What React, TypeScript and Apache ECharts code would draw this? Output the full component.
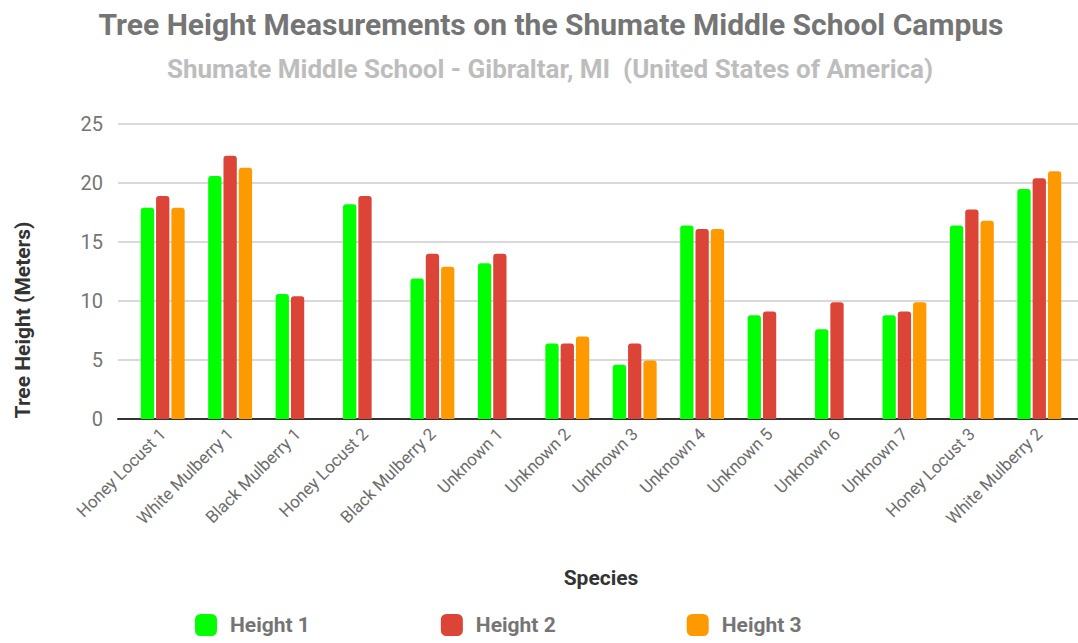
import React, { useEffect, useRef } from "react";
import * as echarts from "echarts";

const categories = [
  "Honey Locust 1",
  "White Mulberry 1",
  "Black Mulberry 1",
  "Honey Locust 2",
  "Black Mulberry 2",
  "Unknown 1",
  "Unknown 2",
  "Unknown 3",
  "Unknown 4",
  "Unknown 5",
  "Unknown 6",
  "Unknown 7",
  "Honey Locust 3",
  "White Mulberry 2",
];
const height1 = [17.9, 20.6, 10.6, 18.2, 11.9, 13.2, 6.4, 4.6, 16.4, 8.8, 7.6, 8.8, 16.4, 19.5];
const height2 = [18.9, 22.3, 10.4, 18.9, 14.0, 14.0, 6.4, 6.4, 16.1, 9.1, 9.9, 9.1, 17.75, 20.4];
const height3 = [17.9, 21.3, null, null, 12.9, null, 7.0, 4.95, 16.1, null, null, 9.9, 16.8, 21.0];
const seriesNames = ["Height 1", "Height 2", "Height 3"];
const colors = ["#00ff00", "#dc4437", "#ff9900"];
const yTicks = { min: 0, max: 25, interval: 5 };

export default function App() {
  const ref = useRef<HTMLDivElement>(null);
  useEffect(() => {
    if (!ref.current) return;
    const chart = echarts.init(ref.current, null, { renderer: "svg" });
    const font = "Roboto";
    const bar = (name: string, data: (number | null)[], color: string) => ({
      name,
      type: "bar",
      xAxisIndex: 1,
      yAxisIndex: 1,
      data,
      barWidth: 13.3,
      barGap: "15%",
      itemStyle: { color, borderRadius: [3, 3, 0, 0] },
    });
    chart.setOption({
      animation: false,
      textStyle: { fontFamily: font },
      title: [
        {
          text: "Tree Height Measurements on the Shumate Middle School Campus",
          left: 546,
          textAlign: "center",
          top: 4,
          textStyle: { fontFamily: font, fontWeight: "bold", fontSize: 30, color: "#757575" },
        },
        {
          text: "Shumate Middle School - Gibraltar, MI  (United States of America)",
          left: 545,
          textAlign: "center",
          top: 51,
          textStyle: { fontFamily: font, fontWeight: "bold", fontSize: 26, color: "#bdbdbd" },
        },
      ],
      graphic: [
        {
          type: "text",
          x: 23,
          y: 320,
          rotation: Math.PI / 2,
          style: {
            text: "Tree Height (Meters)",
            fontFamily: font,
            fontWeight: "bold",
            fontSize: 21,
            fill: "#333",
            textAlign: "center",
            textVerticalAlign: "middle",
          },
        },
      ],
      legend: {
        bottom: 2,
        left: 190,
        itemWidth: 22,
        itemHeight: 22,
        itemGap: 131,
        icon: "roundRect",
        data: seriesNames,
        textStyle: { fontFamily: font, fontWeight: "bold", fontSize: 21, color: "#757575", padding: [0, 0, 0, 8] },
      },
      grid: [
        { left: 118, right: 0, top: 124, bottom: 224 },
        { left: 129, right: 5, top: 124, bottom: 224 },
      ],
      xAxis: [
        {
          type: "category",
          gridIndex: 0,
          data: [""],
          axisLine: { lineStyle: { color: "#333", width: 2 } },
          axisTick: { show: false },
          axisLabel: { show: false },
        },
        {
          type: "category",
          gridIndex: 1,
          data: categories,
          axisLine: { show: false },
          axisTick: { show: false },
          axisLabel: { interval: 0, rotate: 45, fontSize: 17, color: "#6d6d6d", margin: 12 },
          name: "Species",
          nameLocation: "middle",
          nameGap: 148,
          nameTextStyle: { fontFamily: font, fontWeight: "bold", fontSize: 21, color: "#333" },
        },
      ],
      yAxis: [
        {
          type: "value",
          gridIndex: 0,
          ...yTicks,
          axisLine: { show: false },
          axisTick: { show: false },
          splitLine: { lineStyle: { color: "#cccccc", width: 1.5 } },
          axisLabel: { fontSize: 20, color: "#757575", margin: 15 },
        },
        {
          type: "value",
          gridIndex: 1,
          ...yTicks,
          show: false,
          splitLine: { show: false },
        },
      ],
      series: [
        bar(seriesNames[0], height1, colors[0]),
        bar(seriesNames[1], height2, colors[1]),
        bar(seriesNames[2], height3, colors[2]),
      ],
    });
    return () => chart.dispose();
  }, []);
  return (
    <div
      ref={ref}
      style={{ position: "fixed", left: 0, top: 0, width: 1078, height: 643, background: "#fff" }}
    />
  );
}
